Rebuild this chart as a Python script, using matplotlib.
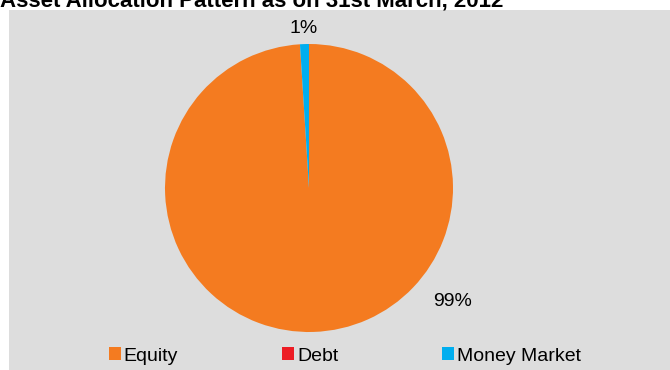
import numpy as np
import matplotlib
matplotlib.use('Agg')
import matplotlib.pyplot as plt
from matplotlib.patches import Patch

plt.rcParams['font.family'] = ['Liberation Sans', 'DejaVu Sans']

title = 'Asset Allocation Pattern as on 31st March, 2012'
categories = ['Equity', 'Debt', 'Money Market']
shares = [99, 0, 1]
colors = ['#F47B20', '#ED1C24', '#00AEEF']

W, H = 670, 370
fig = plt.figure(figsize=(W / 100, H / 100), dpi=100)
fig.patch.set_facecolor('white')

# grey chart area behind the pie
bg = fig.add_axes([9 / W, 0, 1 - 9 / W, 1 - 10 / H], zorder=-1)
bg.set_facecolor('#DDDDDD')
bg.set_xticks([])
bg.set_yticks([])
for s in bg.spines.values():
    s.set_visible(False)

# title sits partly above the top edge
fig.text(0.0, 1 - 6 / H, title, fontsize=16, fontweight='bold',
         ha='left', va='baseline')

cx, cy, r = 309, 188, 144
ax = fig.add_axes([(cx - r) / W, (H - cy - r) / H, 2 * r / W, 2 * r / H])
ax.set_facecolor('none')
wedges, _ = ax.pie(shares, colors=colors, startangle=90, counterclock=False,
                   radius=1.0, wedgeprops=dict(linewidth=0))
ax.set_xlim(-1, 1)
ax.set_ylim(-1, 1)
ax.set_aspect('equal')
ax.axis('off')

# data labels
label_pos = {0: (-38.5, 1.27), 2: (None, 1.11)}
for i, (w, v) in enumerate(zip(wedges, shares)):
    if v == 0:
        continue
    ang, rr = label_pos[i]
    if ang is None:
        ang = (w.theta1 + w.theta2) / 2
    x = rr * np.cos(np.radians(ang))
    y = rr * np.sin(np.radians(ang))
    ax.text(x, y, '%d%%' % v, ha='center', va='center', fontsize=14,
            color='#000000', clip_on=False)

handles = [Patch(facecolor=c, edgecolor='none') for c in colors]
fig.legend(handles, categories, loc='center', bbox_to_anchor=(345 / W, 1 - 356 / H),
           ncol=3, frameon=False, fontsize=14, handlelength=0.62,
           handleheight=0.62, handletextpad=0.15, columnspacing=5.35,
           borderpad=0)

fig.savefig('out.png', dpi=100, facecolor='white')
